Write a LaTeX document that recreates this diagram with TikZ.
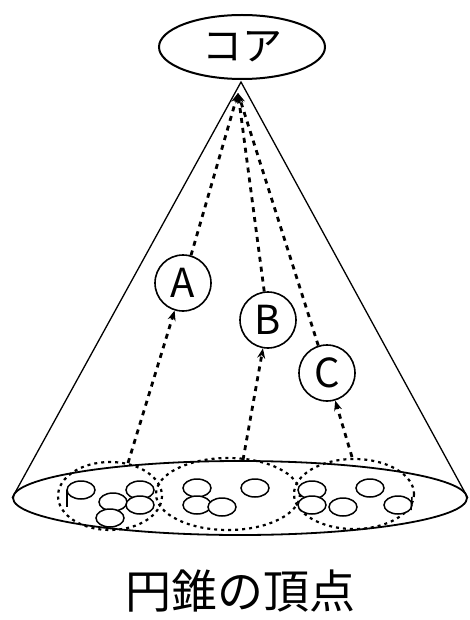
\documentclass[tikz,border=0pt]{standalone}
\usepackage{fontspec}
\setmainfont{Noto Sans CJK JP}
\usetikzlibrary{shapes.geometric,arrows.meta}
\tikzset{
  dots/.style={dash pattern=on 5pt off 5pt, line width=2.8pt},
  grp/.style={dash pattern=on 3pt off 4pt, line width=2.2pt},
  ball/.style={line width=1.5pt},
  lab/.style={circle, draw, line width=1.6pt, minimum size=56pt, inner sep=0pt, font=\fontsize{40}{40}\selectfont}
}

\begin{document}
\begin{tikzpicture}[x=1pt, y=-1pt, line width=1.3pt, >={Stealth[length=10pt,width=8pt]}]
    \useasboundingbox (0,0) rectangle (469,620);
    % core and cone
    \node[ellipse, draw, line width=2pt, minimum width=166pt, minimum height=64pt, inner sep=0pt, font=\fontsize{40}{40}\selectfont] (core) at (242,47) {コア};
    \coordinate (apex) at (241,82);
    \coordinate (tip) at (238,93);
    \node[ellipse, draw, line width=1.8pt, minimum width=454pt, minimum height=74pt, inner sep=0pt] (base) at (240,498) {};
    \draw (base.west) -- (apex) -- (base.east);
    % groups on the base
    \draw[grp] (110,496) ellipse (52 and 34);
    \draw[grp] (228,494) ellipse (72 and 36);
    \draw[grp] (354,494) ellipse (60 and 35);
    \foreach \x/\y in {81/490, 113/502, 110/518, 140/490, 140/505, 197/488, 197/505, 222/507,
                       255/488, 312/490, 312/505, 343/507, 370/488, 398/505}
      \draw[ball, fill=white] (\x,\y) ellipse (14 and 9);
    \draw[ball] (67,490) -- (67,507);
    \draw[ball] (412,497) -- (411,510);
    % paths to the core
    \node[lab] (A) at (183,283) {A};
    \node[lab] (B) at (268,320) {B};
    \node[lab] (C) at (327,373) {C};
    \coordinate (a0) at (128,463);
    \coordinate (b0) at (243,460);
    \coordinate (c0) at (352,457);
    \draw[dots, ->] (a0) -- (A); \draw[dots, ->] (A) -- (tip);
    \draw[dots, ->] (b0) -- (B); \draw[dots, ->] (B) -- (tip);
    \draw[dots, ->] (c0) -- (C); \draw[dots, ->] (C) -- (tip);
    \node[font=\fontsize{46}{46}\selectfont] (title) at (240,591) {円錐の頂点};
\end{tikzpicture}
\end{document}
